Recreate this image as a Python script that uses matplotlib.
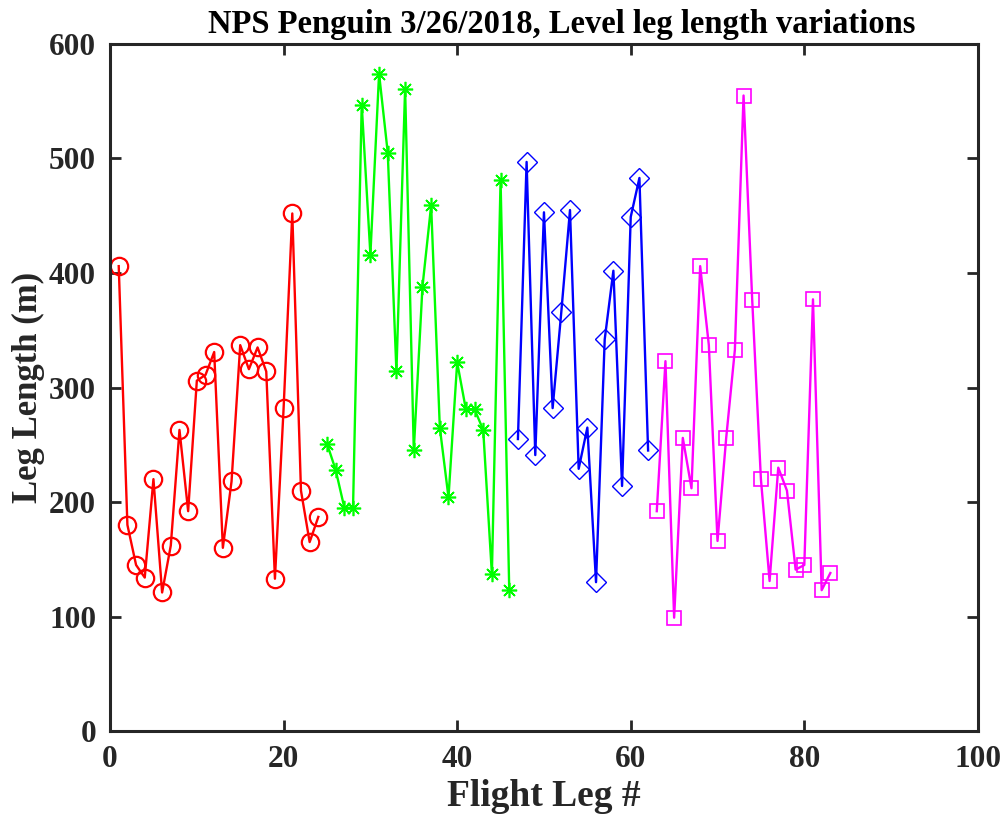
import numpy as np
import matplotlib.pyplot as plt

plt.rcParams['font.family'] = ['Liberation Serif', 'DejaVu Serif']
plt.rcParams['font.weight'] = 'bold'

# leg lengths (m) per flight leg, grouped by colour
legs_red = list(range(1, 25))
len_red = [406, 180, 145, 134, 220, 121, 162, 263, 192, 306, 311, 331,
           160, 218, 337, 316, 335, 314, 133, 282, 452, 210, 165, 187]

legs_green = list(range(25, 47))
len_green = [251, 228, 195, 195, 547, 416, 574, 505, 314, 561, 245,
             388, 459, 265, 204, 322, 281, 281, 263, 137, 481, 123]

legs_blue = list(range(47, 63))
len_blue = [255, 497, 241, 453, 282, 366, 455, 229, 265, 130, 342,
            402, 214, 449, 483, 245]

legs_mag = list(range(63, 84))
len_mag = [192, 323, 99, 256, 212, 406, 337, 166, 256, 333, 555, 376,
           220, 131, 230, 210, 141, 145, 377, 123, 138]

x_ticks = [0, 20, 40, 60, 80, 100]
y_ticks = [0, 100, 200, 300, 400, 500, 600]

fig = plt.figure(figsize=(10.05, 8.19), dpi=100)
ax = fig.add_axes([0.1095, 0.1074, 0.8635, 0.8389])

ax.plot(legs_red, len_red, '-o', color='red', lw=1.7, ms=12.5,
        mfc='none', mew=1.6)
ax.plot(legs_green, len_green, '-', color=(0, 1, 0), lw=1.7,
        marker=(8, 2, 0), ms=11, mew=1.2)
ax.plot(legs_blue, len_blue, '-D', color='blue', lw=1.7, ms=10.5,
        mfc='none', mew=1.0)
ax.plot(legs_mag, len_mag, '-s', color='magenta', lw=1.7, ms=10,
        mfc='none', mew=1.2)

ax.set_xlim(0, 100)
ax.set_ylim(0, 600)
ax.set_xticks(x_ticks)
ax.set_yticks(y_ticks)

dark = '#262626'
for s in ax.spines.values():
    s.set_linewidth(2.2)
    s.set_color(dark)
ax.tick_params(direction='in', length=8, width=2, top=True, right=True,
               labelsize=22.5, colors=dark, pad=10)

ax.set_xlabel('Flight Leg #', fontsize=27, fontweight='bold', color=dark,
              labelpad=4)
ax.set_ylabel('Leg Length (m)', fontsize=25, fontweight='bold', color=dark,
              labelpad=3)
ax.set_title('NPS Penguin 3/26/2018, Level leg length variations',
             fontsize=23.5, fontweight='bold', color='black', pad=8, x=0.52)

fig.savefig('out.png', dpi=100)
